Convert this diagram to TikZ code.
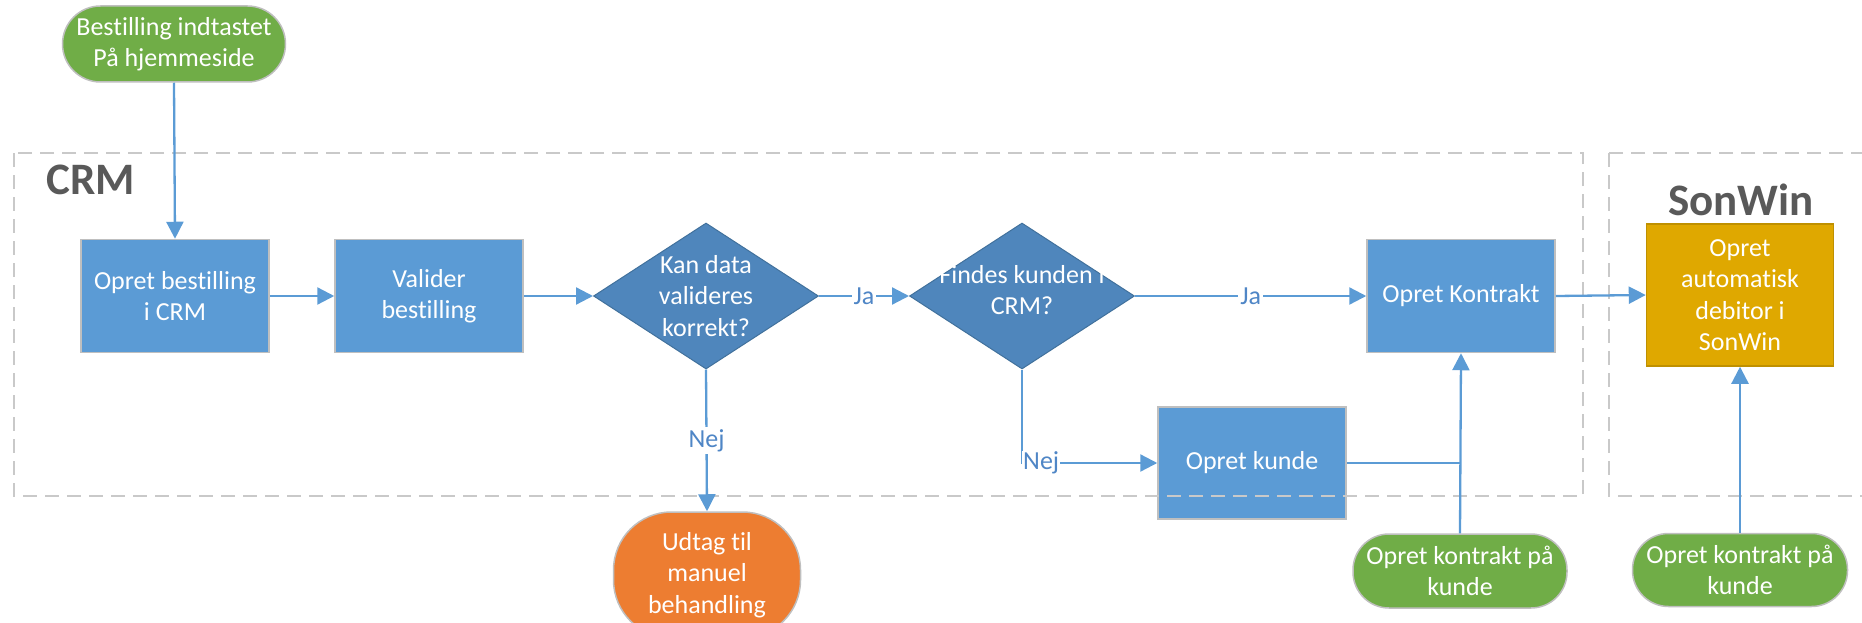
\documentclass[tikz,border=0pt]{standalone}
\usepackage{fontspec}
\setmainfont[Ligatures=NoCommon]{Carlito}
\usetikzlibrary{shapes.geometric,arrows.meta}
\definecolor{boxblue}{HTML}{5B9BD5}
\definecolor{diablue}{HTML}{4F86BC}
\definecolor{diaedge}{HTML}{41719C}
\definecolor{pillgreen}{HTML}{70AD47}
\definecolor{udorange}{HTML}{ED7D31}
\definecolor{goldbox}{HTML}{DFA800}
\definecolor{goldedge}{HTML}{BF9000}
\definecolor{bordergray}{HTML}{BFBFBF}
\definecolor{dashgray}{HTML}{C9C9C9}
\definecolor{connblue}{HTML}{5B9BD5}
\definecolor{lblblue}{HTML}{4F86C6}
\definecolor{titlegray}{HTML}{595959}
\tikzset{
  txt/.style={font=\fontsize{26}{31.5}\selectfont, text=white, align=center, inner sep=0pt},
  proc/.style={txt, rectangle, draw=bordergray, line width=1.5pt, fill=boxblue, minimum width=188pt, minimum height=113pt},
  pill/.style={txt, rectangle, rounded corners=36pt, draw=bordergray, line width=1.5pt, fill=pillgreen, minimum width=214pt, minimum height=74pt},
  dia/.style={diamond, draw=diaedge, line width=1pt, fill=diablue, minimum width=225pt, minimum height=146pt, inner sep=0pt},
  diatext/.style={txt},
  conn/.style={draw=connblue, line width=2.3pt, -{Triangle[length=17pt,width=17pt]}},
  plain/.style={draw=connblue, line width=2.3pt},
  lbl/.style={font=\fontsize{26}{31}\selectfont, text=lblblue, fill=white, inner sep=2pt},
  container/.style={draw=dashgray, line width=2pt, dash pattern=on 14pt off 8pt},
  title/.style={font=\fontsize{45}{50}\selectfont\bfseries, text=titlegray, inner sep=0pt}
}
\begin{document}
\begin{tikzpicture}[x=1pt,y=-1pt]
\useasboundingbox (0,0) rectangle (1862,623);
\clip (0,0) rectangle (1862,623);
% nodes
\node[pill, minimum width=223pt, minimum height=76pt, rounded corners=38pt] (start) at (174,44) {Bestilling indtastet\\På hjemmeside};
\node[proc] (b1) at (175,296) {Opret bestilling\\i CRM};
\node[proc] (b2) at (429,296) {Valider\\bestilling};
\node[dia] (d1) at (706,296) {};
\node[diatext] (d1t) at (706,296) {Kan data\\valideres\\korrekt?};
\node[dia] (d2) at (1022,296) {};
\node[diatext] (d2t) at (1022,290) {Findes kunden i\\CRM?};
\node[proc] (b3) at (1461,296) {Opret Kontrakt};
\node[proc, minimum height=112pt] (b4) at (1252,463) {Opret kunde};
\node[txt, rectangle, draw=goldedge, line width=1.5pt, fill=goldbox, minimum width=187pt, minimum height=142pt] (sw) at (1740,295) {Opret\\automatisk\\debitor i\\SonWin};
\node[pill] (p1) at (1460,571) {Opret kontrakt på\\kunde};
\node[pill, minimum width=215pt, minimum height=73pt] (p2) at (1740,570) {Opret kontrakt på\\kunde};
\node[txt, rectangle, rounded corners=58pt, draw=bordergray, line width=1.5pt, fill=udorange, minimum width=187pt, minimum height=126pt] (ud) at (707,575) {Udtag til\\manuel\\behandling};
% containers
\draw[container] (14,153) rectangle (1583,496);
\draw[container] (1609,153) rectangle (1900,496);
\node[title, anchor=west] (crm) at (46,180) {CRM};
\node[title] (son) at (1741,200) {SonWin};
% connectors
\draw[conn] (start.south) -- (b1.north);
\draw[conn] (b1.east) -- (b2.west);
\draw[conn] (b2.east) -- (d1.west);
\draw[conn] (d1.east) -- node[lbl] (ja1) {Ja} (d2.west);
\draw[conn] (d2.east) -- node[lbl] (ja2) {Ja} (b3.west);
\draw[conn] (d1.south) -- node[lbl] (nej1) {Nej} (ud.north);
\draw[conn] (d2.south) |- (b4.west);
\node[lbl, anchor=west, inner sep=1pt] (nej2) at (d2.south |- b4.west) {Nej};
\coordinate (join) at (b4.east -| b3.south);
\draw[plain] (b4.east) -- (join);
\draw[conn] (p1.north) -- (b3.south);
\draw[conn] (b3.east) -- (sw.west);
\draw[conn] (p2.north) -- (sw.south);
\end{tikzpicture}
\end{document}
